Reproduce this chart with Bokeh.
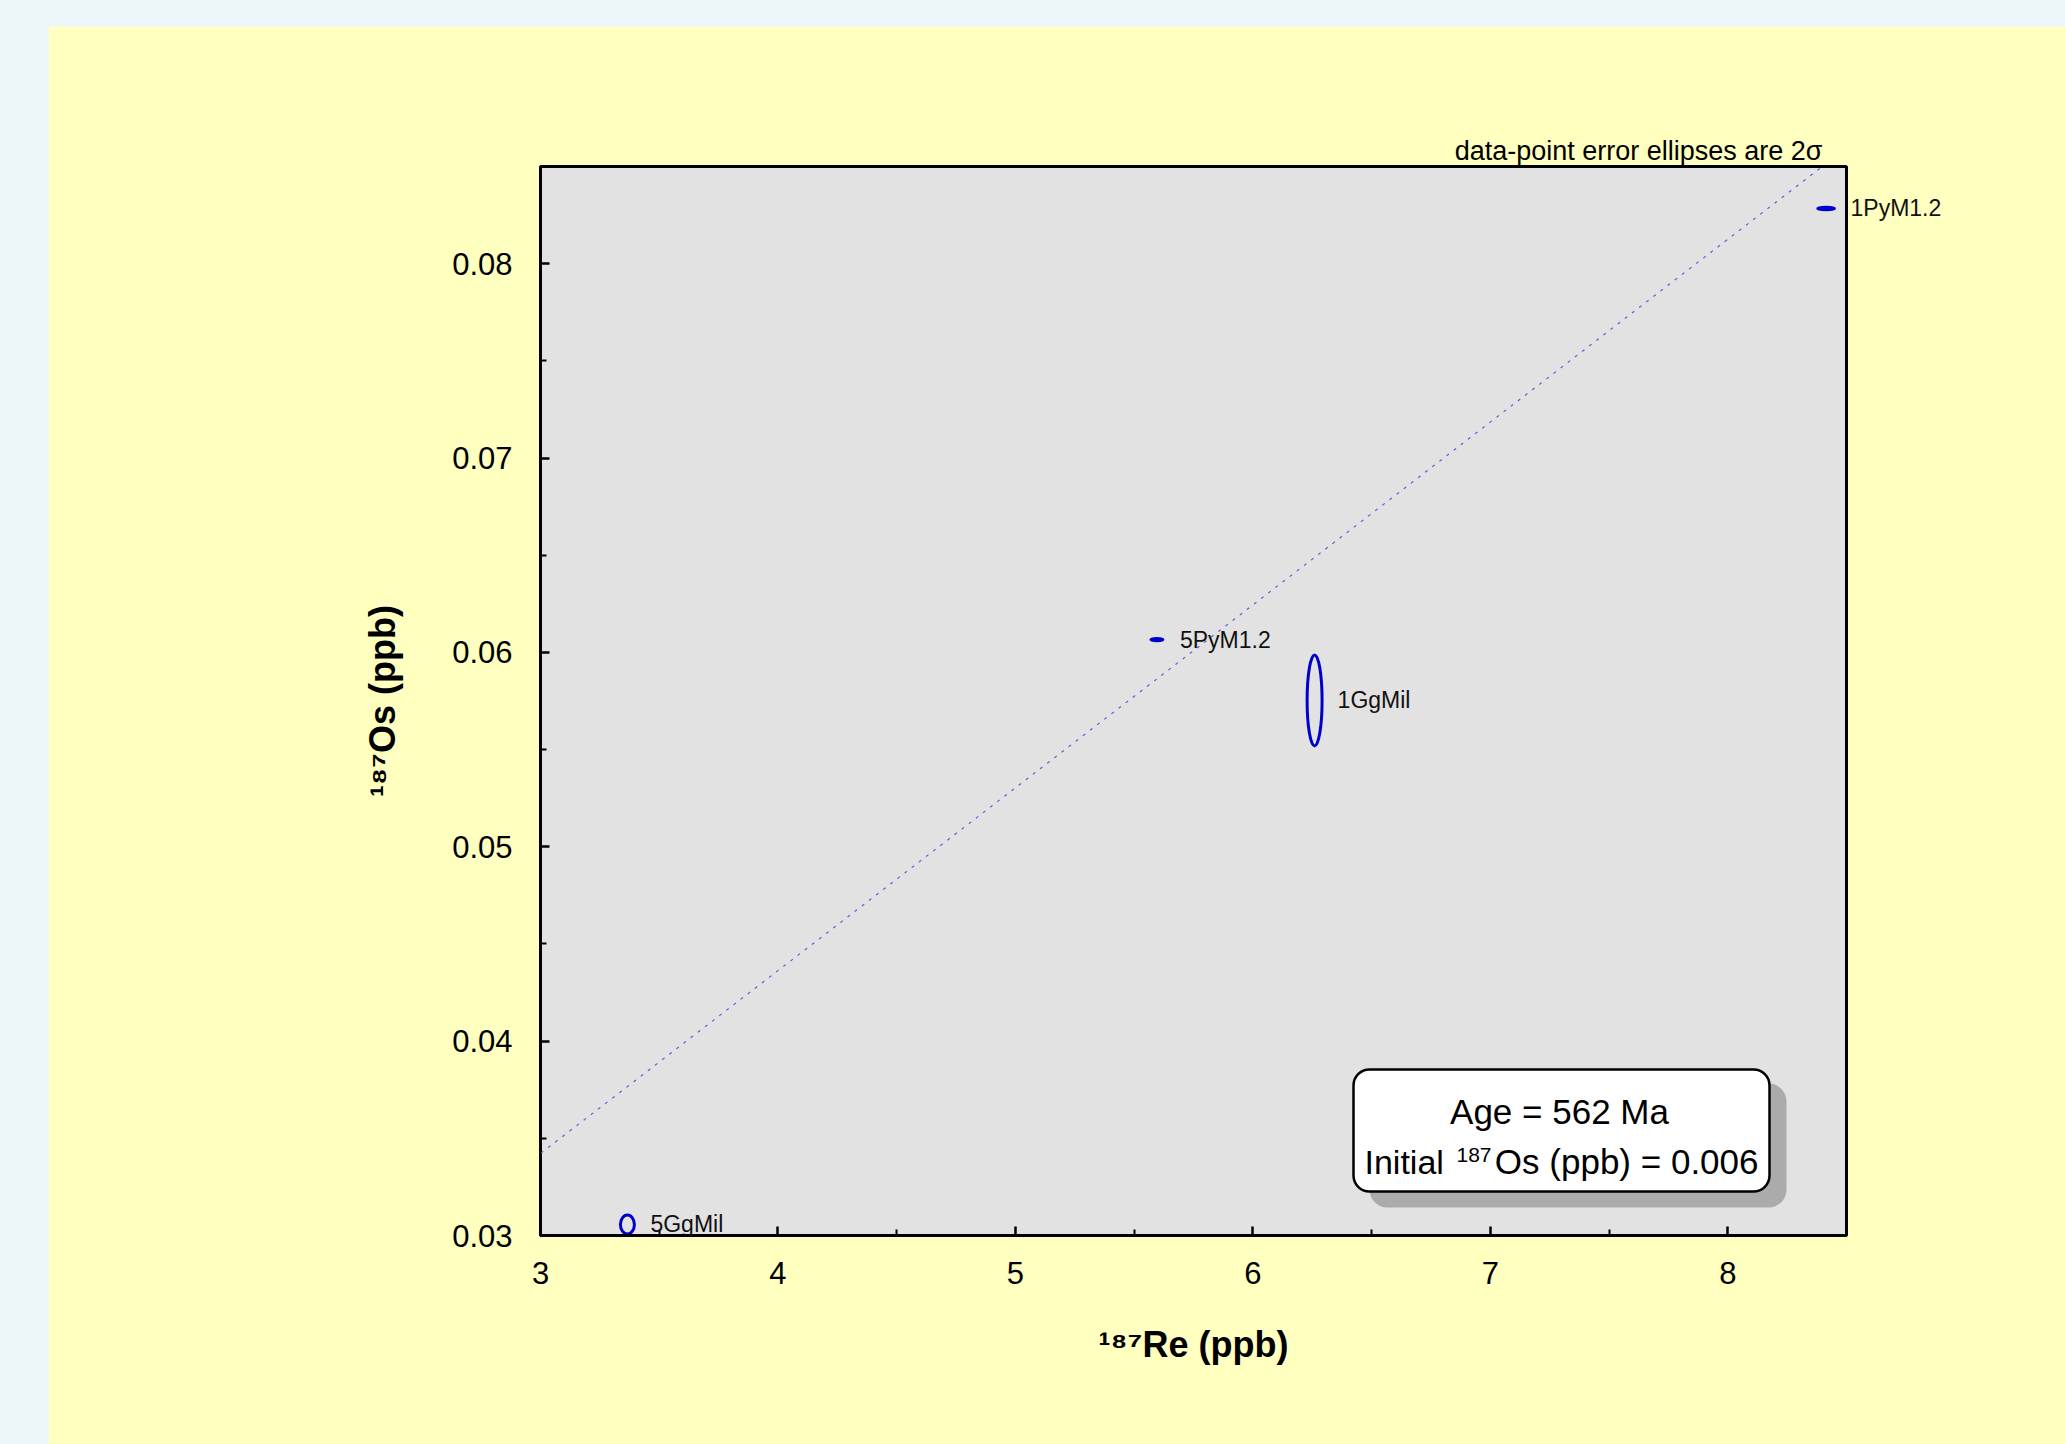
import math
from bokeh.plotting import figure
from bokeh.models import (Range1d, FixedTicker, PrintfTickFormatter, BoxAnnotation,
                          Label, LabelSet, Slope, ColumnDataSource, LinearAxis, Title)
from bokeh.core.properties import value
from bokeh.embed import file_html
from bokeh.resources import INLINE

# ---------------- data ----------------
samples = ["1PyM1.2", "5PyM1.2", "1GgMil", "5GgMil"]
re187 = [8.414, 5.596, 6.260, 3.366]          # 187Re (ppb)
os187 = [0.08284, 0.06066, 0.05753, 0.030566]  # 187Os (ppb)
re_2s = [0.070, 0.050, 0.063, 0.059]           # full 2-sigma ellipse width
os_2s = [0.00012, 0.00012, 0.00468, 0.00098]   # full 2-sigma ellipse height

age_ma = 562
initial_os = 0.006
lambda_re = 1.666e-11

x_ticks = [3, 4, 5, 6, 7, 8]
x_minor = [3.5, 4.5, 5.5, 6.5, 7.5, 8.5]
y_ticks = [0.03, 0.04, 0.05, 0.06, 0.07, 0.08]
y_minor = [0.035, 0.045, 0.055, 0.065, 0.075, 0.085]
x_lim = (3, 8.5)
y_lim = (0.03, 0.085)

x_title = "\u00b9\u2078\u2077Re (ppb)"
y_title = "\u00b9\u2078\u2077Os (ppb)"
note = "data-point error ellipses are 2\u03c3"

# ---------------- figure ----------------
FONT = "Liberation Sans"

W, H = 2017, 1418
ML, MT, MR, MB = 492, 140, 219, 209
FW, FH = W - ML - MR, H - MT - MB

p = figure(width=W, height=H, output_backend="svg", toolbar_location=None,
           x_range=Range1d(*x_lim), y_range=Range1d(*y_lim),
           min_border_left=ML, min_border_top=MT, min_border_right=MR,
           min_border_bottom=MB)
p.background_fill_color = "#E2E2E2"
p.border_fill_color = "#FFFFC0"
p.outline_line_color = "black"
p.outline_line_width = 3
p.grid.visible = False

# page-pixel -> data helpers (for annotation placement inside the frame)
PX0, PY0 = 48 + ML, 26 + MT + FH   # frame bottom-left in page pixels
XPX = FW / (x_lim[1] - x_lim[0])
YPX = FH / (y_lim[1] - y_lim[0])
def dx(px):
    return x_lim[0] + (px - PX0) / XPX
def dy(py):
    return y_lim[0] + (PY0 - py) / YPX

for ax, ticks, minor, fmt in ((p.xaxis, x_ticks, x_minor, "%d"),
                              (p.yaxis, y_ticks, y_minor, "%.2f")):
    ax.ticker = FixedTicker(ticks=ticks, minor_ticks=minor)
    ax.formatter = PrintfTickFormatter(format=fmt)
    ax.axis_line_width = 3
    ax.axis_line_color = "black"
    ax.major_tick_in = 9
    ax.major_tick_out = 0
    ax.minor_tick_in = 6
    ax.minor_tick_out = 0
    ax.major_tick_line_width = 2.5
    ax.minor_tick_line_width = 2
    ax.major_tick_line_color = "black"
    ax.minor_tick_line_color = "black"
    ax.major_label_text_font = FONT
    ax.major_label_text_font_size = "31px"
    ax.major_label_text_color = "black"
    ax.axis_label_text_font = FONT
    ax.axis_label_text_font_size = "36px"
    ax.axis_label_text_font_style = "bold"
    ax.axis_label_text_color = "black"
p.xaxis.major_label_standoff = 26
p.yaxis.major_label_standoff = 28
p.xaxis.axis_label = x_title
p.yaxis.axis_label = y_title
p.xaxis.axis_label_standoff = 37
p.yaxis.axis_label_standoff = 46

# note above the frame
p.add_layout(Title(text=note, align="right", offset=24, standoff=2,
                   text_font=FONT, text_font_size="27px", text_font_style="normal",
                   text_color="black"), "above")

# regression (isochron) line
slope = math.exp(lambda_re * age_ma * 1e6) - 1
p.add_layout(Slope(gradient=slope, y_intercept=initial_os, line_color="#5050DD",
                   line_width=1.2, line_dash="3 6", line_alpha=0.9))

# error ellipses
src = ColumnDataSource(dict(x=re187, y=os187, w=re_2s, h=os_2s, name=samples))
p.ellipse(x="x", y="y", width="w", height="h", source=src, fill_alpha=0,
          line_color="#0000CC", line_width=3)

# sample labels: inside the frame via LabelSet, at the frame edge via a bare right axis
inside = [i for i in range(len(samples)) if re187[i] + 0.45 < x_lim[1]]
outside = [i for i in range(len(samples)) if i not in inside]
lab_src = ColumnDataSource(dict(x=[re187[i] for i in inside], y=[os187[i] for i in inside],
                                name=[samples[i] for i in inside]))
p.add_layout(LabelSet(x="x", y="y", text="name", source=lab_src, x_offset=23,
                      text_baseline="middle", text_font=value(FONT),
                      text_font_size="23px", text_color="#111111"))
rax = LinearAxis(ticker=FixedTicker(ticks=[os187[i] for i in outside], minor_ticks=[]),
                 major_label_overrides={os187[i]: samples[i] for i in outside},
                 axis_line_alpha=0, major_tick_line_alpha=0, minor_tick_line_alpha=0,
                 major_tick_in=0, major_tick_out=0, minor_tick_in=0, minor_tick_out=0,
                 major_label_standoff=4, major_label_text_font=FONT,
                 major_label_text_font_size="23px", major_label_text_color="#111111")
p.add_layout(rax, "right")

# result box with shadow
p.add_layout(BoxAnnotation(left=dx(1369), right=dx(1786), top=dy(1083), bottom=dy(1207),
                           fill_color="#ABABAB", fill_alpha=1, line_alpha=0,
                           border_radius=18))
p.add_layout(BoxAnnotation(left=dx(1353), right=dx(1769), top=dy(1069), bottom=dy(1191),
                           fill_color="white", fill_alpha=1, line_color="black",
                           line_alpha=1, line_width=2.5, border_radius=16))
box_font = dict(text_font=FONT, text_color="black", text_baseline="alphabetic")
p.add_layout(Label(x=dx(1559), y=dy(1111), text=f"Age = {age_ma} Ma",
                   text_align="center", text_font_size="35px", **box_font))
p.add_layout(Label(x=dx(1364), y=dy(1161), text="Initial",
                   text_align="left", text_font_size="34px", **box_font))
p.add_layout(Label(x=dx(1456), y=dy(1154), text="187",
                   text_align="left", text_font_size="21px", **box_font))
p.add_layout(Label(x=dx(1758), y=dy(1161), text=f"Os (ppb) = {initial_os}",
                   text_align="right", text_font_size="35px", **box_font))

html = file_html(p, INLINE, title="Re-Os isochron")
css = ("<style>html,body{background:#EDF6F9 !important;}"
       "body{margin:0 !important;padding:26px 0 0 48px !important;"
       "box-sizing:border-box !important;overflow:hidden;}</style>")
html = html.replace("</head>", css + "</head>", 1)
open("out.html", "w").write(html)
